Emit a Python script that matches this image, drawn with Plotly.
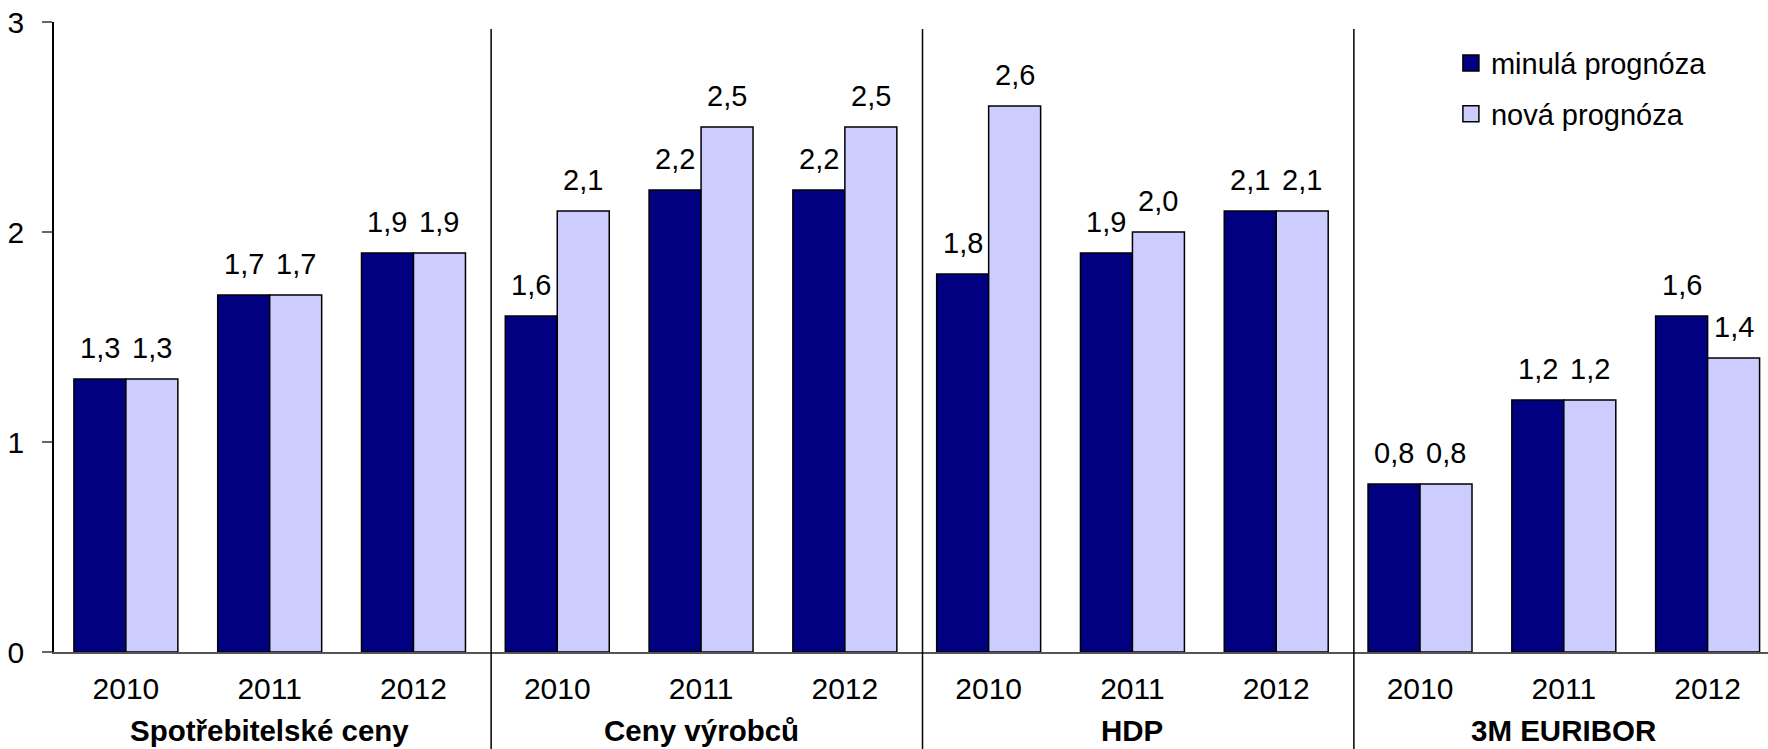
import plotly.graph_objects as go

# --- data -------------------------------------------------------------
groups = ["Spotřebitelské ceny", "Ceny výrobců", "HDP", "3M EURIBOR"]
years = ["2010", "2011", "2012"]
series_names = ["minulá prognóza", "nová prognóza"]
minula = [1.3, 1.7, 1.9, 1.6, 2.2, 2.2, 1.8, 1.9, 2.1, 0.8, 1.2, 1.6]
nova = [1.3, 1.7, 1.9, 2.1, 2.5, 2.5, 2.6, 2.0, 2.1, 0.8, 1.2, 1.4]
y_ticks = [0, 1, 2, 3]

# --- styling ------------------------------------------------------------
FONT = "Liberation Sans, Arial, sans-serif"
DARK = "#000080"
LIGHT = "#CCCCFF"
colors = [DARK, LIGHT]
BARGAP = 0.277

n_years = len(years)
positions = list(range(len(groups) * n_years))
tick_text = years * len(groups)
bar_w = (1 - BARGAP) / 2          # width of one bar in category units
shifts = [-bar_w / 2, bar_w / 2]  # centre of each bar within its slot

fig = go.Figure()

for name, vals, col, dx in zip(series_names, [minula, nova], colors, shifts):
    fig.add_trace(go.Bar(
        x=positions, y=vals, name=name,
        marker=dict(color=col, line=dict(color="black", width=1.5)),
        showlegend=False,
    ))
    # value labels above each bar
    for xi, v in zip(positions, vals):
        fig.add_annotation(
            x=xi + dx, y=v, xref="x", yref="y",
            text=f"{v:.1f}".replace(".", ","),
            showarrow=False, yanchor="bottom", yshift=13,
            font=dict(family=FONT, size=29, color="black"),
        )

# legend entries with square swatches
for i, (name, col) in enumerate(zip(series_names, colors)):
    fig.add_trace(go.Scatter(
        x=[None], y=[None], mode="markers", name=name,
        legendgroup=f"g{i}",
        marker=dict(symbol="square", size=16, color=col,
                    line=dict(color="black", width=1.5)),
    ))

# vertical separators between the groups
for g in range(1, len(groups)):
    xsep = g * n_years - 0.5 + 0.04
    fig.add_shape(type="line", xref="x", yref="paper",
                  x0=xsep, x1=xsep, y0=-0.2, y1=0.989,
                  line=dict(color="black", width=1.5))

# group titles under the year labels
for g, label in enumerate(groups):
    fig.add_annotation(x=g * n_years + (n_years - 1) / 2, y=-0.1535,
                       xref="x", yref="paper", text=f"<b>{label}</b>",
                       showarrow=False, yanchor="bottom",
                       font=dict(family=FONT, size=29.5, color="black"))

fig.update_layout(
    width=1768, height=749,
    margin=dict(l=54, r=0, t=22, b=97),
    paper_bgcolor="white", plot_bgcolor="white",
    barmode="group", bargap=BARGAP, bargroupgap=0,
    font=dict(family=FONT, size=28, color="black"),
    legend=dict(x=0.815, y=0.975, xanchor="left", yanchor="top",
                font=dict(family=FONT, size=29, color="black"),
                tracegroupgap=10, bgcolor="rgba(0,0,0,0)"),
    xaxis=dict(
        tickmode="array", tickvals=positions, ticktext=tick_text,
        range=[-0.5, 11.42], showline=True, linecolor="#555", linewidth=1.5,
        ticks="", showgrid=False, zeroline=False, ticklabelstandoff=9,
        tickfont=dict(family=FONT, size=30, color="black"),
    ),
    yaxis=dict(
        range=[0, 3], tickmode="array", tickvals=y_ticks,
        showline=True, linecolor="black", linewidth=1.5,
        ticks="outside", ticklen=10, tickcolor="#666", tickwidth=1.5,
        showgrid=False, zeroline=False, ticklabelstandoff=12,
        tickfont=dict(family=FONT, size=30, color="black"),
    ),
)

fig.write_html("out.html")
